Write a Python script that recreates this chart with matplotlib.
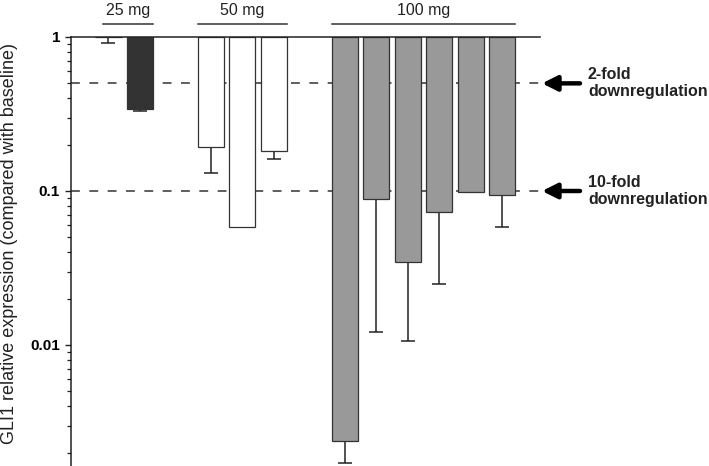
import matplotlib
matplotlib.use("Agg")
import matplotlib.pyplot as plt
import matplotlib.transforms as mtransforms
from matplotlib.ticker import LogLocator, NullFormatter, FixedLocator, FixedFormatter
import numpy as np

plt.rcParams['font.family'] = ['Liberation Sans', 'DejaVu Sans']

# ---- data ----
groups = ["25 mg", "50 mg", "100 mg"]
values_25 = [1.0, 0.341]
values_50 = [0.192, 0.0587, 0.183]
values_100 = [0.00239, 0.0883, 0.0344, 0.0734, 0.099, 0.0942]
errlow_25 = [0.914, 0.331]
errlow_50 = [0.130, np.nan, 0.161]
errlow_100 = [0.00172, 0.0122, 0.0106, 0.0249, np.nan, 0.0587]
group_colors = ["#333333", "#ffffff", "#999999"]
ytick_vals = [1, 0.1, 0.01]
ytick_labels = ["1", "0.1", "0.01"]
ref_levels = [0.5, 0.1]
ref_labels = ["2-fold\ndownregulation", "10-fold\ndownregulation"]
ylabel = "GLI1 relative expression (compared with baseline)"

all_values = [values_25, values_50, values_100]
all_err = [errlow_25, errlow_50, errlow_100]

fig = plt.figure(figsize=(7.09, 4.66), dpi=100)
ax = fig.add_axes([71/709, 0.0, (540-71)/709, 1-37/466])

gap = 2.25
width = 0.83
start = 0.0
edge = "#333333"
trans = mtransforms.blended_transform_factory(ax.transData, ax.transAxes)

for g, (name, vals, errs, col) in enumerate(zip(groups, all_values, all_err, group_colors)):
    n = len(vals)
    pos = start + np.arange(n)
    v = np.array(vals, dtype=float)
    e = np.array(errs, dtype=float)
    ax.axhline  # noqa
    # reference dashed lines drawn separately (behind)
    ax.bar(pos, v - 1.0, bottom=1.0, width=width, color=col, edgecolor=edge,
           linewidth=0.9, zorder=3)
    mask = ~np.isnan(e)
    if mask.any():
        ax.errorbar(pos[mask], v[mask], yerr=[v[mask] - e[mask], np.zeros(mask.sum())],
                    fmt='none', ecolor="#222222", elinewidth=1.1, capsize=4.7,
                    capthick=1.1, zorder=2)
    # group label with underline
    if g == 0:
        cx = 0.62
        x0, x1 = cx - 0.79, cx + 0.79
    else:
        x0, x1 = pos[0] - width/2, pos[-1] + width/2
        cx = (x0 + x1) / 2
    ax.plot([x0, x1], [1.030, 1.030], transform=trans, color="#333333", lw=1.1,
            clip_on=False)
    ax.text(cx, 1.061, name, transform=trans, ha='center', va='center',
            fontsize=11.5, color="#222222")
    start = pos[-1] + gap

for lvl in ref_levels:
    ax.axhline(lvl, color="#333333", lw=1.1, dashes=(5.8, 6.2), zorder=1)

ax.set_yscale('log')
ax.set_ylim(10**(-(466-37)/154), 1.0)
ax.set_xlim(-1.19, 13.70)

ax.spines['right'].set_visible(False)
ax.spines['bottom'].set_visible(False)
ax.spines['top'].set_linewidth(1.1)
ax.spines['left'].set_linewidth(1.1)
ax.spines['top'].set_color("#222222")
ax.spines['left'].set_color("#222222")
ax.spines['top'].set_zorder(5)

ax.set_xticks([])
ax.yaxis.set_major_locator(FixedLocator(ytick_vals))
ax.yaxis.set_major_formatter(FixedFormatter(ytick_labels))
ax.yaxis.set_minor_locator(LogLocator(base=10, subs=np.arange(2, 10)))
ax.yaxis.set_minor_formatter(NullFormatter())
ax.tick_params(axis='y', which='major', direction='out', length=4.3, width=1.0,
               pad=3.6, labelsize=11, color="#222222")
ax.tick_params(axis='y', which='minor', direction='out', length=2.8, width=0.9,
               color="#222222")
for lab in ax.get_yticklabels():
    lab.set_fontweight('bold')

fig.text(10/709, 1-244/466, ylabel, rotation=90, ha='center', va='center',
         fontsize=13, color="#222222")

for lvl, txt in zip(ref_levels, ref_labels):
    btrans = mtransforms.blended_transform_factory(ax.transAxes, ax.transData)
    ax.annotate("", xy=((542-71)/469, lvl), xycoords=btrans,
                xytext=((580-71)/469, lvl), textcoords=btrans,
                arrowprops=dict(arrowstyle='-|>,head_length=0.9,head_width=0.45',
                                lw=3.2, color='black', shrinkA=0, shrinkB=0),
                annotation_clip=False)
    ax.text((588-71)/469, lvl, txt, transform=btrans, ha='left', va='center',
            fontsize=11.5, fontweight='bold', color="#222222", linespacing=1.15)

fig.savefig("out.png", dpi=100)
